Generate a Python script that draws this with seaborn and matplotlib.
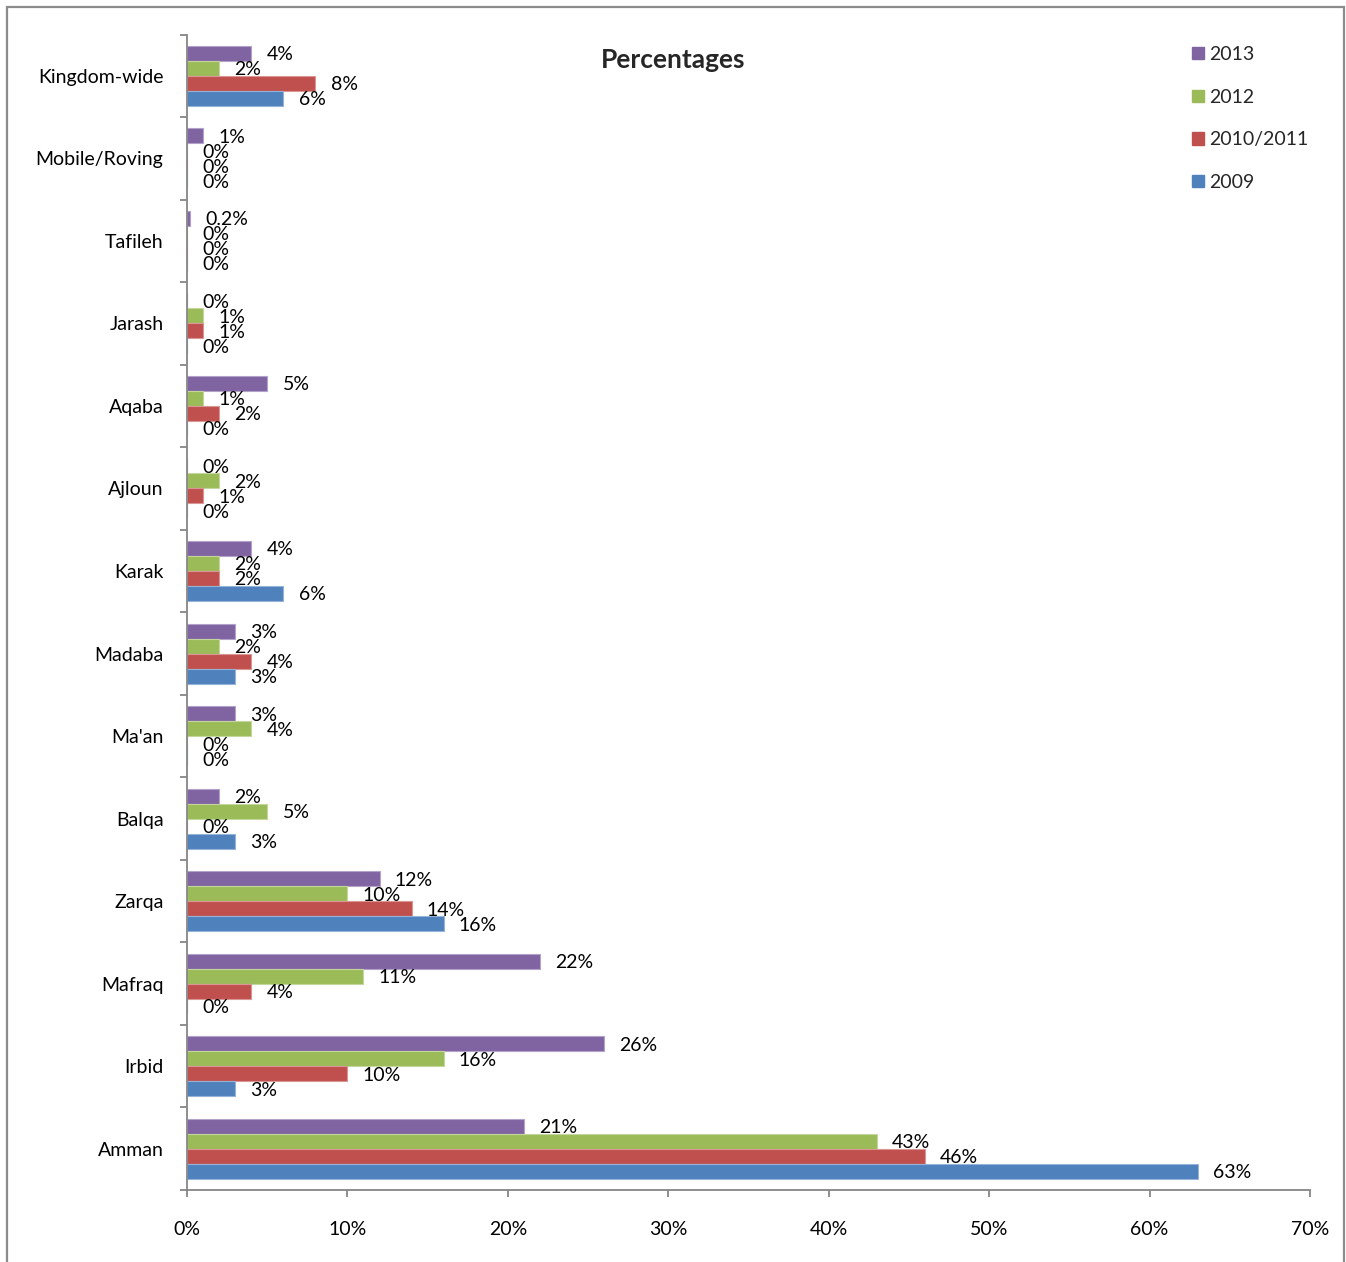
import matplotlib
matplotlib.use("Agg")
import matplotlib.pyplot as plt
import seaborn as sns
import pandas as pd
from matplotlib.patches import Rectangle, Patch
from matplotlib.ticker import FixedLocator, PercentFormatter

regions = ["Kingdom-wide", "Mobile/Roving", "Tafileh", "Jarash", "Aqaba", "Ajloun",
           "Karak", "Madaba", "Ma'an", "Balqa", "Zarqa", "Mafraq", "Irbid", "Amman"]
series = ["2013", "2012", "2010/2011", "2009"]
v2013 = [4, 1, 0.2, 0, 5, 0, 4, 3, 3, 2, 12, 22, 26, 21]
v2012 = [2, 0, 0, 1, 1, 2, 2, 2, 4, 5, 10, 11, 16, 43]
v2010_2011 = [8, 0, 0, 1, 2, 1, 2, 4, 0, 0, 14, 4, 10, 46]
v2009 = [6, 0, 0, 0, 0, 0, 6, 3, 0, 3, 16, 0, 3, 63]
x_ticks = [0, 10, 20, 30, 40, 50, 60, 70]

colors = ["#8064A2", "#9BBB59", "#C0504D", "#4F81BD"]
edges = ["#B3A2C7", "#C3D69B", "#D99694", "#95B3D7"]

values = [v2013, v2012, v2010_2011, v2009]
df = pd.DataFrame({
    "region": regions * len(series),
    "series": [s for s in series for _ in regions],
    "value": [v for vals in values for v in vals],
})

sns.set_theme(style="white")
plt.rcParams["font.family"] = ["Lato", "DejaVu Sans"]

W, H = 1346, 1262
FS = 14
fig = plt.figure(figsize=(W / 100, H / 100), dpi=100)
ax = fig.add_axes([187 / W, 1 - 1190 / H, (1310 - 187) / W, (1190 - 34.5) / H])

sns.barplot(data=df, y="region", x="value", hue="series", order=regions,
            hue_order=series, palette=colors, orient="h", width=0.727,
            saturation=1, ax=ax, legend=False)

for cont, ec, vals in zip(ax.containers, edges, values):
    for bar in cont:
        bar.set_edgecolor(ec)
        bar.set_linewidth(0.8)
    texts = ax.bar_label(cont, labels=[f"{v:g}%" for v in vals], padding=11,
                         fontsize=FS, color="black")
    for t in texts:
        t.set_verticalalignment("center_baseline")

ax.set_xlim(0, 70)
ax.set_ylim(len(regions) - 0.5, -0.5)
ax.set_xlabel("")
ax.set_ylabel("")
ax.xaxis.set_major_locator(FixedLocator(x_ticks))
ax.xaxis.set_major_formatter(PercentFormatter(decimals=0))
ax.yaxis.set_minor_locator(FixedLocator([i - 0.5 for i in range(len(regions) + 1)]))

spine_c = "#868686"
for side in ("top", "right"):
    ax.spines[side].set_visible(False)
for side in ("left", "bottom"):
    ax.spines[side].set_color(spine_c)
    ax.spines[side].set_linewidth(1.3)

ax.tick_params(axis="x", which="major", direction="out", length=5, width=1.3,
               color=spine_c, labelsize=FS, pad=17, bottom=True)
ax.tick_params(axis="y", which="major", length=0, labelsize=FS, pad=17)
ax.tick_params(axis="y", which="minor", direction="out", length=5, width=1.3,
               color=spine_c, left=True)
for lbl in ax.get_yticklabels() + ax.get_xticklabels():
    lbl.set_color("black")

fig.text(673 / W, 1 - 60 / H, "Percentages", ha="center", va="center",
         fontsize=19, fontweight="bold")

handles = [Patch(facecolor=c, edgecolor=c) for c in colors]
fig.legend(handles, series, loc="upper left",
           bbox_to_anchor=(1192 / W, 1 - 46 / H), frameon=False, fontsize=FS,
           handlelength=0.6, handleheight=0.6, handletextpad=0.3,
           labelspacing=1.32, borderpad=0, borderaxespad=0)

fig.patches.append(Rectangle((7 / W, -0.01), (1344 - 7) / W, 1.01 - 7 / H,
                             transform=fig.transFigure, fill=False,
                             edgecolor="#8c8c8c", linewidth=1.6))

fig.savefig("out.png", dpi=100)
